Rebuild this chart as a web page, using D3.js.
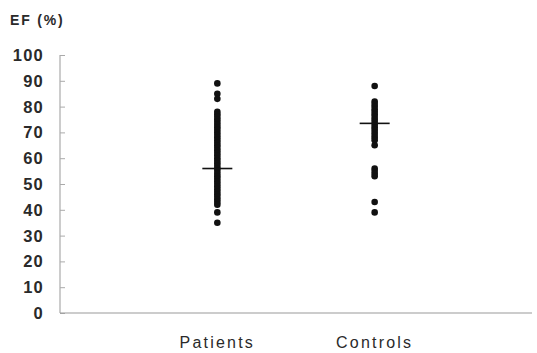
<!DOCTYPE html>
<html><head><meta charset="utf-8">
<script src="https://cdn.jsdelivr.net/npm/d3@7"></script>
<style>body{margin:0;background:#fff}svg{display:block}</style>
</head><body>
<script>
const categories = ["Patients", "Controls"];
const patients = [89, 85, 83, 78, 77, 76, 75, 74, 73, 72, 71, 70, 69, 68, 67, 66, 65, 64, 63, 62, 61, 60, 59, 58, 57, 56, 55, 54, 53, 52, 51, 50, 49, 48, 47, 46, 45, 44, 43, 42, 39, 35];
const controls = [88, 82, 81, 80, 79, 78, 77, 76, 75, 74, 73, 72, 71, 70, 69, 68, 67, 65, 56, 55, 54, 53, 43, 39];
const means = [56, 73.5];
const yTicks = [0, 10, 20, 30, 40, 50, 60, 70, 80, 90, 100];
const yTitle = "EF (%)";

const W = 537, H = 353;
const svg = d3.select("body").append("svg").attr("width", W).attr("height", H);
const x = d3.scalePoint().domain(categories).range([60, 532]).padding(1);
const y = d3.scaleLinear().domain([0, 100]).range([313, 55]);
const font = "'Liberation Sans', Arial, sans-serif";

const yAxis = svg.append("g").attr("transform", "translate(60,0)")
  .call(d3.axisRight(y).tickValues(yTicks).tickSize(5).tickFormat(""));
yAxis.select(".domain").attr("stroke", "#999").attr("d", `M0,${y(100)}V${y(0)}`);
yAxis.selectAll(".tick line").attr("stroke", "#aaa");

svg.append("g").selectAll("text").data(yTicks).join("text")
  .attr("x", 44).attr("y", d => y(d)).attr("dy", "0.36em")
  .attr("text-anchor", "end").attr("font-family", font).attr("font-weight", "bold")
  .attr("font-size", 16.5).attr("letter-spacing", 1.2).attr("fill", "#2a2a2a").text(d => d);

svg.append("line").attr("x1", 60).attr("x2", 532).attr("y1", y(0)).attr("y2", y(0))
  .attr("stroke", "#999").attr("stroke-width", 1.2);

svg.append("text").attr("x", 10).attr("y", 25).attr("font-family", font).attr("font-weight", "bold")
  .attr("font-size", 14).attr("letter-spacing", 1.8).attr("fill", "#2a2a2a").text(yTitle);

svg.append("g").selectAll("text").data(categories).join("text")
  .attr("x", d => x(d)).attr("y", 348).attr("text-anchor", "middle")
  .attr("font-family", font).attr("font-size", 16).attr("letter-spacing", 2.2)
  .attr("fill", "#2a2a2a").text(d => d);

const series = [patients, controls];
series.forEach((vals, i) => {
  svg.append("g").selectAll("circle").data(vals).join("circle")
    .attr("cx", x(categories[i])).attr("cy", d => y(d)).attr("r", 3.3).attr("fill", "#111");
});
svg.append("g").selectAll("line").data(means).join("line")
  .attr("x1", (d, i) => x(categories[i]) - 15).attr("x2", (d, i) => x(categories[i]) + 15)
  .attr("y1", d => y(d)).attr("y2", d => y(d)).attr("stroke", "#111").attr("stroke-width", 1.6);
</script>
</body></html>
